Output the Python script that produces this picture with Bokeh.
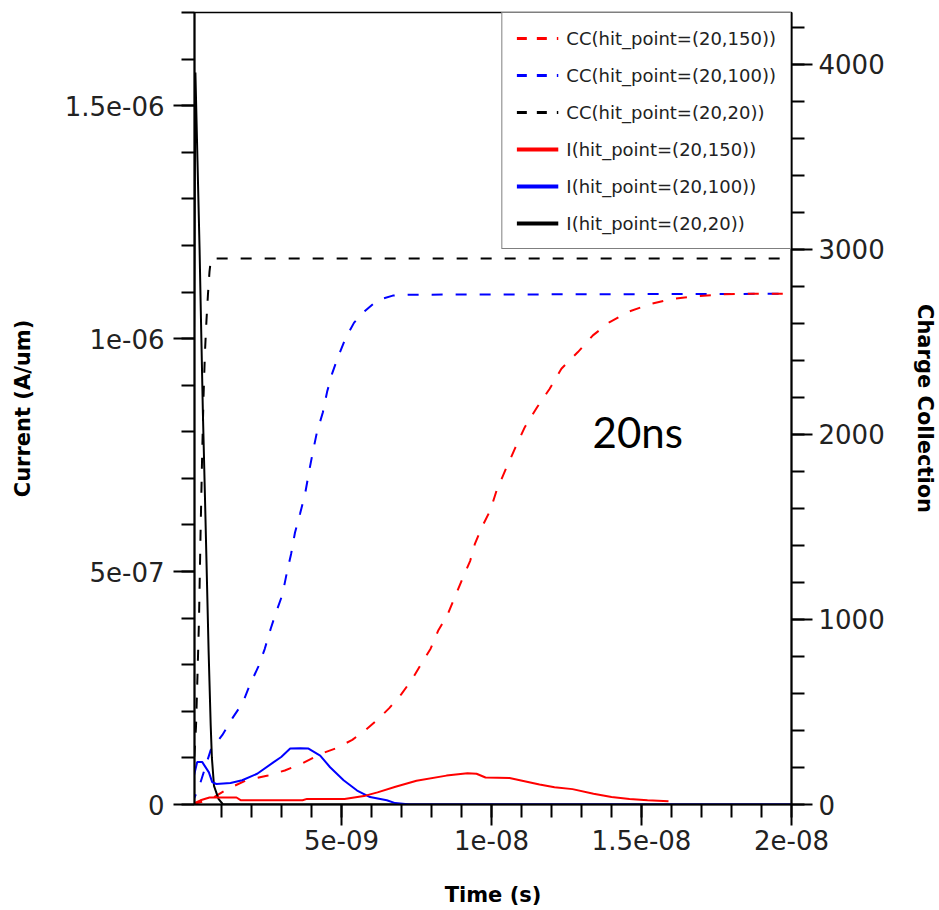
import numpy as np
from bokeh.plotting import figure
from bokeh.models import LinearAxis, Range1d, FixedTicker, Legend, LegendItem, Label
from bokeh.embed import file_html
from bokeh.resources import INLINE

NS = 1e-9   # time values below are in ns
UA = 1e-6   # current values below are in 1e-6 A/um

# ---- data ----
# Charge collection (right axis)
t_cc_150 = [0.0, 0.6, 1.2, 1.82, 2.55, 3.11, 3.68, 4.35, 4.80, 5.36, 5.81, 6.20, 6.60, 6.99,
            7.36, 7.66, 7.97, 8.23, 8.53, 8.79, 9.02, 9.29, 9.45, 9.68, 9.96, 10.17, 10.48,
            10.78, 11.11, 11.52, 11.94, 12.33, 12.88, 13.38, 13.94, 14.60, 15.33, 16.05,
            16.82, 17.71, 18.49, 20.0]
cc_150 = [0, 25, 84, 130, 157, 184, 221, 276, 303, 349, 404, 458, 522, 595,
          678, 760, 842, 942, 1024, 1125, 1216, 1317, 1410, 1499, 1590, 1697, 1814,
          1923, 2039, 2147, 2247, 2355, 2445, 2535, 2607, 2665, 2706, 2733,
          2747, 2757, 2760, 2760]

t_cc_100 = [0.0, 0.25, 0.64, 1.03, 1.37, 1.71, 1.93, 2.22, 2.44, 2.64, 2.83, 3.03, 3.19,
            3.32, 3.45, 3.62, 3.79, 3.92, 4.04, 4.18, 4.38, 4.52, 4.69, 4.89, 5.14, 5.42,
            5.79, 6.20, 6.71, 7.27, 20.0]
cc_100 = [0, 93, 294, 376, 468, 550, 641, 742, 840, 950, 1043, 1134, 1262,
          1354, 1470, 1572, 1682, 1800, 1901, 2011, 2120, 2230, 2330, 2421, 2522, 2604,
          2668, 2726, 2750, 2755, 2760]

t_cc_20 = [0.0, 0.15, 0.2, 0.25, 0.3, 0.35, 0.4, 0.45, 0.5, 0.55, 0.6, 0.65, 20.0]
cc_20 = [0, 420, 700, 1000, 1450, 1850, 2200, 2450, 2620, 2760, 2880, 2950, 2950]

# Currents (left axis)
t_i_150 = [0.0, 0.3, 0.6, 1.5, 1.65, 3.7, 3.85, 5.1, 5.8, 6.2, 6.8, 7.5, 8.5, 9.2, 9.5,
           9.8, 10.6, 11.1, 11.6, 12.1, 12.7, 13.4, 14.0, 14.6, 15.2, 15.9]
i_150 = [0.0, 0.009, 0.015, 0.015, 0.009, 0.009, 0.012, 0.012, 0.019, 0.026, 0.038, 0.051,
         0.062, 0.067, 0.066, 0.058, 0.057, 0.050, 0.043, 0.037, 0.033, 0.023, 0.016,
         0.012, 0.009, 0.007]

t_i_100 = [0.0, 0.19, 0.36, 0.58, 0.69, 0.83, 1.30, 1.69, 2.19, 2.74, 2.99, 3.29, 3.63,
           3.90, 4.29, 4.62, 5.07, 5.52, 5.95, 6.51, 6.79, 7.29, 20.0]
i_100 = [0.040, 0.091, 0.091, 0.069, 0.048, 0.044, 0.046, 0.052, 0.066, 0.091, 0.102,
         0.120, 0.121, 0.120, 0.105, 0.080, 0.052, 0.030, 0.016, 0.009, 0.003, 0.0, 0.0]

t_i_20 = [0.0, 0.13, 0.2, 0.27, 0.31, 0.38, 0.46, 0.57, 0.64, 0.68, 0.75, 0.9, 1.05, 20.0]
i_20 = [0.0, 1.571, 1.38, 1.19, 1.06, 0.84, 0.63, 0.33, 0.17, 0.10, 0.04, 0.012, 0.0, 0.0]

# ---- ticks ----
x_ticks = [5e-9, 1e-8, 1.5e-8, 2e-8]
x_tick_labels = ["5e-09", "1e-08", "1.5e-08", "2e-08"]
y_ticks = [0.0, 5e-7, 1e-6, 1.5e-6]
y_tick_labels = ["0", "5e-07", "1e-06", "1.5e-06"]
cc_ticks = [0, 1000, 2000, 3000, 4000]
cc_tick_labels = ["0", "1000", "2000", "3000", "4000"]

legend_labels = ["CC(hit_point=(20,150))", "CC(hit_point=(20,100))", "CC(hit_point=(20,20))",
                 "I(hit_point=(20,150))", "I(hit_point=(20,100))", "I(hit_point=(20,20))"]
series_colors = ["#ff0000", "#0000ff", "#000000"]

TICK_FONT = "DejaVu Sans"

p = figure(width=939, height=910, output_backend="svg", toolbar_location=None,
           x_range=Range1d(0.1e-9, 2e-8), y_range=Range1d(0, 1.7e-6),
           min_border_left=194, min_border_right=146, min_border_top=12,
           min_border_bottom=106)
p.extra_y_ranges = {"cc": Range1d(0, 4280)}
p.xgrid.visible = False
p.ygrid.visible = False
p.background_fill_color = "white"
p.border_fill_color = "white"
p.outline_line_color = "black"
p.outline_line_width = 1.5

dash = "11 13"
# charge collection (dashed, right axis)
p.line(np.array(t_cc_20) * NS, cc_20, y_range_name="cc", line_color=series_colors[2],
       line_width=2, line_dash=dash)
p.line(np.array(t_cc_100) * NS, cc_100, y_range_name="cc", line_color=series_colors[1],
       line_width=2, line_dash=dash)
p.line(np.array(t_cc_150) * NS, cc_150, y_range_name="cc", line_color=series_colors[0],
       line_width=2, line_dash=dash)
# currents (solid, left axis)
p.line(np.array(t_i_20) * NS, np.array(i_20) * UA, line_color=series_colors[2], line_width=2)
p.line(np.array(t_i_100) * NS, np.array(i_100) * UA, line_color=series_colors[1], line_width=2)
p.line(np.array(t_i_150) * NS, np.array(i_150) * UA, line_color=series_colors[0], line_width=2)

# legend glyph renderers (no visible data, thicker strokes like the original legend)
items = []
styles = [(series_colors[0], "10 10", 3), (series_colors[1], "10 10", 3), (series_colors[2], "10 10", 3),
          (series_colors[0], "solid", 4), (series_colors[1], "solid", 4), (series_colors[2], "solid", 4)]
for lab, (c, d, w) in zip(legend_labels, styles):
    r = p.line(x=[np.nan], y=[np.nan], line_color=c, line_dash=d, line_width=w)
    items.append(LegendItem(label=lab, renderers=[r]))
legend = Legend(items=items, location="top_right", margin=0, padding=14, spacing=15,
                label_height=22, glyph_height=22, glyph_width=42, label_standoff=8,
                label_text_font="DejaVu Sans", label_text_font_size="18px",
                label_text_color="#222222", border_line_color="black",
                border_line_width=1.5, background_fill_alpha=1.0)
p.add_layout(legend)

def style_axis(ax, ticks, labels, minor, standoff, label_standoff):
    ax.ticker = FixedTicker(ticks=ticks, minor_ticks=minor)
    ax.major_label_overrides = dict(zip(ticks, labels))
    ax.major_tick_in = 0
    ax.major_tick_out = 21
    ax.minor_tick_in = 0
    ax.minor_tick_out = 13
    ax.major_tick_line_width = 2
    ax.minor_tick_line_width = 2
    ax.axis_line_width = 2
    ax.major_tick_line_color = "black"
    ax.minor_tick_line_color = "black"
    ax.axis_line_color = "black"
    ax.major_label_text_font = TICK_FONT
    ax.major_label_text_font_size = "26px"
    ax.major_label_text_color = "#222222"
    ax.major_label_standoff = standoff
    ax.axis_label_text_font = "DejaVu Sans"
    ax.axis_label_text_font_style = "bold"
    ax.axis_label_text_font_size = "21px"
    ax.axis_label_text_color = "black"
    ax.axis_label_standoff = label_standoff

xa = p.xaxis[0]
style_axis(xa, x_ticks, x_tick_labels, [k * 1e-9 for k in range(1, 21)], 4, 30)
xa.axis_label = "Time (s)"

ya = p.yaxis[0]
style_axis(ya, y_ticks, y_tick_labels, [k * 1e-7 for k in range(0, 18)], 9, 27)
ya.axis_label = "Current (A/um)"

ra = LinearAxis(y_range_name="cc")
style_axis(ra, cc_ticks, cc_tick_labels, [k * 200 for k in range(0, 22)], 6, 25)
ra.axis_label = "Charge Collection"
p.add_layout(ra, "right")

p.add_layout(Label(x=13.37e-9, y=8.0e-7, text="20ns", text_font="Lato",
                   text_font_size="42px", text_color="black", text_baseline="alphabetic"))
p.add_layout(Label(x=21.1e-9, y=-2.02e-7, text="10", text_font="Lato", level="overlay",
                   text_font_size="20px", text_color="black", text_baseline="alphabetic"))

open("out.html", "w").write(file_html(p, INLINE))
